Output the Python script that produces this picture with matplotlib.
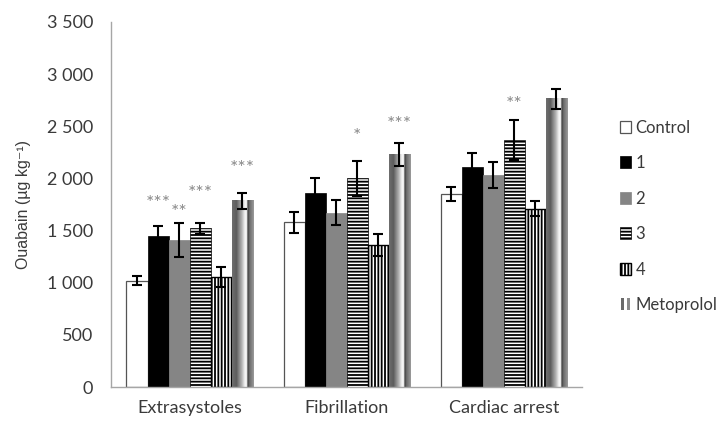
import numpy as np
import matplotlib
import matplotlib.pyplot as plt
from matplotlib.patches import Rectangle
from matplotlib.legend_handler import HandlerBase
from matplotlib.ticker import FuncFormatter
from matplotlib.colors import LinearSegmentedColormap

# data
categories = ["Extrasystoles", "Fibrillation", "Cardiac arrest"]
series = ["Control", "1", "2", "3", "4", "Metoprolol"]
control = [1020, 1580, 1850]
comp1 = [1450, 1860, 2110]
comp2 = [1410, 1670, 2030]
comp3 = [1520, 2000, 2370]
comp4 = [1055, 1360, 1710]
metoprolol = [1785, 2225, 2765]
control_err = [40, 100, 70]
comp1_err = [90, 140, 130]
comp2_err = [165, 120, 125]
comp3_err = [55, 170, 190]
comp4_err = [95, 105, 70]
metoprolol_err = [75, 110, 95]
# significance marks: (category, series, label, height of label)
sig_marks = [
    (0, 1, "***", 1760),
    (0, 2, "**", 1675),
    (0, 3, "***", 1855),
    (0, 5, "***", 2095),
    (1, 3, "*", 2400),
    (1, 5, "***", 2515),
    (2, 3, "**", 2710),
]

values = [control, comp1, comp2, comp3, comp4, metoprolol]
errors = [control_err, comp1_err, comp2_err, comp3_err, comp4_err, metoprolol_err]

plt.rcParams["font.family"] = ["Lato", "DejaVu Sans"]
plt.rcParams["hatch.linewidth"] = 1.3

text_col = "#3a3a3a"
styles = [
    dict(color="white", edgecolor="#555555", linewidth=0.9),
    dict(color="black", edgecolor="black", linewidth=0.5),
    dict(color="#858585", edgecolor="#858585", linewidth=0.5),
    dict(color="white", edgecolor="black", hatch="-----", linewidth=0.5),
    dict(color="white", edgecolor="black", hatch="|||||", linewidth=1.0),
    dict(color="#888888", edgecolor="none", linewidth=0),
]

fig = plt.figure(figsize=(7.24, 4.22), dpi=100)
ax = fig.add_axes([0.1533, 0.0829, 0.651, 0.865])

x = np.arange(len(categories))
width = 21 / 157
bar_groups = []
for i, (vals, errs, st) in enumerate(zip(values, errors, styles)):
    pos = x + (i - 2.5) * width
    bars = ax.bar(pos, vals, width, label=series[i], zorder=2, **st)
    bar_groups.append(bars)

# cylinder-like shading for metoprolol bars
shade = LinearSegmentedColormap.from_list(
    "shade",
    [(0.0, "#6e6e6e"), (0.2, "#5c5c5c"), (0.45, "#b5b5b5"), (0.6, "#f7f7f7"),
     (0.68, "#eeeeee"), (0.72, "#3c3c3c"), (0.8, "#6a6a6a"), (1.0, "#9a9a9a")])
grad = np.linspace(0, 1, 64).reshape(1, -1)
for p in bar_groups[5]:
    ax.imshow(grad, cmap=shade, aspect="auto", zorder=2.5,
              extent=(p.get_x(), p.get_x() + p.get_width(), 0, p.get_height()))

for i, (vals, errs) in enumerate(zip(values, errors)):
    pos = x + (i - 2.5) * width
    ax.errorbar(pos, vals, yerr=errs, fmt="none", ecolor="black",
                elinewidth=1.5, capsize=3.5, capthick=1.5, zorder=3)

for cat, ser, lab, h in sig_marks:
    ax.text(x[cat] + (ser - 2.5) * width, h, lab, ha="center", va="center",
            fontsize=14, color="#8a8a8a")

ax.set_xlim(-0.5, 2.5)
ax.set_ylim(0, 3500)
ax.set_yticks(np.arange(0, 3501, 500))
ax.yaxis.set_major_formatter(FuncFormatter(lambda v, p: f"{int(v):,}".replace(",", " ")))
ax.set_xticks(x)
ax.set_xticklabels(categories)
ax.tick_params(axis="both", length=0, labelsize=13, colors=text_col)
ax.tick_params(axis="x", pad=9)
ax.tick_params(axis="y", pad=13)
for s in ["top", "right"]:
    ax.spines[s].set_visible(False)
for s in ["left", "bottom"]:
    ax.spines[s].set_color("#a6a6a6")
    ax.spines[s].set_linewidth(1.0)
ax.set_ylabel("Ouabain (µg kg⁻¹)", fontsize=11.5, color=text_col, labelpad=11,
              family=["Liberation Sans", "DejaVu Sans"])


class StripeHandler(HandlerBase):
    def create_artists(self, legend, orig_handle, xdescent, ydescent,
                       width, height, fontsize, trans):
        r1 = Rectangle((-xdescent + 0.1 * width, -ydescent), 0.3 * width, height,
                       facecolor="#6a6a6a", edgecolor="none", transform=trans)
        r2 = Rectangle((-xdescent + 0.6 * width, -ydescent), 0.3 * width, height,
                       facecolor="#8a8a8a", edgecolor="none", transform=trans)
        return [r1, r2]


handles = [g.patches[0] for g in bar_groups]
fig.legend(handles, series, loc="upper left", bbox_to_anchor=(0.835, 0.752),
           frameon=False, fontsize=12, handlelength=0.7, handleheight=0.7,
           handletextpad=0.25, labelspacing=1.17, labelcolor=text_col,
           handler_map={handles[5]: StripeHandler()})

fig.savefig("out.png", dpi=100)
